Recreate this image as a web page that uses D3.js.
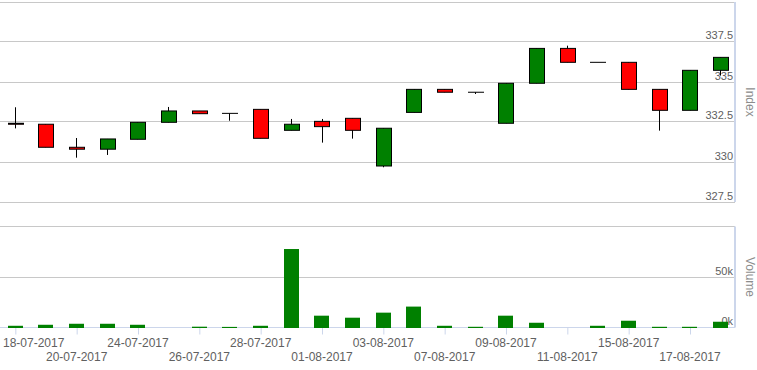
<!DOCTYPE html>
<html>
<head>
<meta charset="utf-8">
<script src="https://cdn.jsdelivr.net/npm/d3@7"></script>
<style>
  html, body { margin: 0; padding: 0; background: #fff; }
  svg { display: block; font-family: "Liberation Sans", Arial, sans-serif; }
</style>
</head>
<body>
<svg id="chart" width="757" height="370"></svg>
<script>
// ---- data ----
const dates = ["18-07-2017","19-07-2017","20-07-2017","21-07-2017","24-07-2017","25-07-2017","26-07-2017","27-07-2017","28-07-2017","31-07-2017","01-08-2017","02-08-2017","03-08-2017","04-08-2017","07-08-2017","08-08-2017","09-08-2017","10-08-2017","11-08-2017","14-08-2017","15-08-2017","16-08-2017","17-08-2017","18-08-2017"];
const openV  = [332.42,332.36,330.92,330.80,331.42,332.48,333.19,333.04,333.29,331.98,332.54,332.73,329.75,333.10,334.54,334.36,332.42,334.92,337.10,336.23,336.23,334.54,333.23,335.73];
const highV  = [333.42,332.36,331.50,331.44,332.48,333.44,333.19,333.04,333.29,332.69,332.69,332.73,332.11,334.54,334.54,334.36,334.92,337.10,337.27,336.23,336.23,334.54,335.73,336.54];
const lowV   = [332.10,330.92,330.27,330.44,331.42,332.48,333.02,332.58,331.48,331.98,331.21,331.46,329.67,333.10,334.36,334.25,332.42,334.92,336.23,336.23,334.54,331.96,333.23,335.40];
const closeV = [332.36,330.92,330.80,331.44,332.48,333.19,333.02,333.04,331.48,332.36,332.21,331.98,332.11,334.54,334.36,334.36,334.92,337.10,336.23,336.23,334.54,333.23,335.73,336.54];
const volumeV = [1700,2700,3700,3700,2700,0,800,600,1700,77700,11700,9700,14700,20700,1700,700,11700,4700,0,1700,6700,700,700,5700];
const priceTicks = [327.5,330,332.5,335,337.5,340];
const priceLabels = [327.5,330,332.5,335,337.5];
const volumeTicks = [0,50000,100000];
const volumeLabels = [0,50000];
const xLabelDates = dates.filter((d,i) => i % 2 === 0);

// ---- layout ----
const svg = d3.select("#chart");
const plotRight = 735;
const x = d3.scaleBand().domain(dates).range([0, 736]).paddingInner(0.5).paddingOuter(0.25);
const yP = d3.scaleLinear().domain([327.5, 340]).range([202, 2]);
const yV = d3.scaleLinear().domain([0, 100000]).range([327.5, 226.5]);
const gridColor = "#c8c8c8";
const axisColor = "#ccd6eb";
const labelColor = "#606060";
const titleColor = "#8c8c8c";

function crisp(v){ return Math.floor(v) + 0.5; }

// price gridlines + labels
const gP = svg.append("g").attr("transform", `translate(${plotRight},0)`)
  .call(d3.axisLeft(yP).tickValues(priceTicks).tickSize(plotRight)
    .tickFormat(d => priceLabels.includes(d) ? String(d) : ""));
gP.select(".domain").remove();
gP.selectAll(".tick").attr("transform", d => `translate(0,${crisp(yP(d))})`);
gP.selectAll(".tick line").attr("stroke", gridColor);
gP.selectAll(".tick text").attr("x", -2).attr("y", -3).attr("dy", null)
  .attr("text-anchor", "end").attr("fill", labelColor).style("font-size", "11px")
  .style("font-family", "Liberation Sans, Arial, sans-serif");

// volume gridlines + labels
const gV = svg.append("g").attr("transform", `translate(${plotRight},0)`)
  .call(d3.axisLeft(yV).tickValues(volumeTicks).tickSize(plotRight)
    .tickFormat(d => volumeLabels.includes(d) ? (d/1000) + "k" : ""));
gV.select(".domain").remove();
gV.selectAll(".tick").attr("transform", d => `translate(0,${crisp(yV(d))})`);
gV.selectAll(".tick line").attr("stroke", gridColor);
gV.selectAll(".tick text").attr("x", -2).attr("y", -3).attr("dy", null)
  .attr("text-anchor", "end").attr("fill", labelColor).style("font-size", "11px")
  .style("font-family", "Liberation Sans, Arial, sans-serif");

// right axis lines
svg.append("line").attr("x1", plotRight).attr("x2", plotRight).attr("y1", yP.range()[1]).attr("y2", yP.range()[0])
  .attr("stroke", axisColor).attr("stroke-width", 2);
svg.append("line").attr("x1", plotRight).attr("x2", plotRight).attr("y1", yV.range()[1]).attr("y2", yV.range()[0])
  .attr("stroke", axisColor).attr("stroke-width", 2);

// x axis
const gX = svg.append("g").attr("transform", `translate(0,${crisp(yV(0))})`)
  .call(d3.axisBottom(x).tickValues(xLabelDates).tickSize(7).tickSizeOuter(0));
gX.select(".domain").attr("stroke", axisColor).attr("d", `M0,0H${plotRight}`);
gX.selectAll(".tick line").attr("stroke", axisColor)
  .attr("transform", "translate(0.5,0)");
gX.selectAll(".tick text")
  .attr("y", (d,i) => i % 2 === 0 ? 19 : 33).attr("dy", null)
  .attr("fill", labelColor).style("font-size", "12px")
  .style("font-family", "Liberation Sans, Arial, sans-serif");
// keep first label inside chart
gX.selectAll(".tick").each(function(d){
  const t = d3.select(this).select("text");
  const tx = x(d) + x.bandwidth()/2;
  const w = t.node().getComputedTextLength();
  if (tx - w/2 < 3) t.attr("x", 3 - tx + w/2);
});

// volume bars
const bw = x.bandwidth();
svg.append("g").selectAll("rect").data(dates).join("rect")
  .attr("x", d => Math.round(x(d)))
  .attr("width", Math.round(bw))
  .attr("y", (d,i) => yV(volumeV[i]))
  .attr("height", (d,i) => volumeV[i] > 0 ? (yV(0) - yV(volumeV[i]) + 0.5) : 0)
  .attr("fill", "#008000");

// candles: wicks
const gC = svg.append("g");
gC.selectAll("line").data(dates).join("line")
  .attr("x1", d => crisp(x(d) + bw/2)).attr("x2", d => crisp(x(d) + bw/2))
  .attr("y1", (d,i) => yP(highV[i])).attr("y2", (d,i) => yP(lowV[i]))
  .attr("stroke", "#000").attr("stroke-width", 1);
// bodies
gC.selectAll("rect").data(dates).join("rect")
  .attr("x", d => Math.round(x(d)) + 0.5)
  .attr("width", Math.round(bw))
  .attr("y", (d,i) => yP(Math.max(openV[i], closeV[i])))
  .attr("height", (d,i) => Math.max(0.01, Math.abs(yP(openV[i]) - yP(closeV[i]))))
  .attr("fill", (d,i) => closeV[i] > openV[i] ? "#008000" : (closeV[i] < openV[i] ? "#ff0000" : "#000"))
  .attr("stroke", "#000").attr("stroke-width", 1);

// axis titles
svg.append("text").attr("transform", `translate(746,${(yP.range()[0]+yP.range()[1])/2}) rotate(90)`)
  .attr("text-anchor", "middle").attr("fill", titleColor).style("font-size", "12px").text("Index");
svg.append("text").attr("transform", `translate(746,${(yV.range()[0]+yV.range()[1])/2}) rotate(90)`)
  .attr("text-anchor", "middle").attr("fill", titleColor).style("font-size", "12px").text("Volume");
</script>
</body>
</html>
